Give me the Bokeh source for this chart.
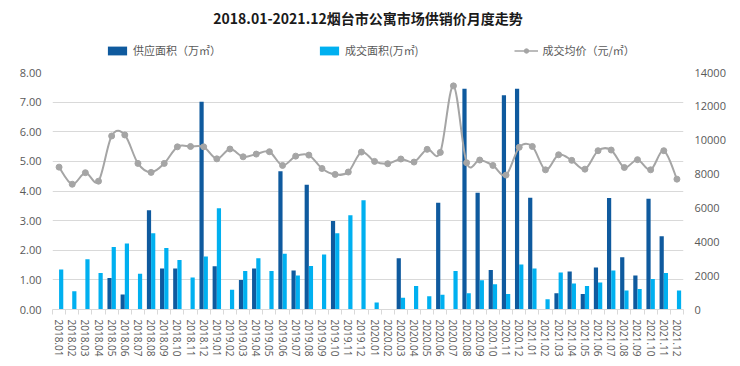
from bokeh.plotting import figure
from bokeh.layouts import column
from bokeh.models import (Range1d, LinearAxis, FixedTicker, Legend, LegendItem,
                          ColumnDataSource, NumeralTickFormatter, Label)
from bokeh.embed import file_html
from bokeh.resources import INLINE

months = ["2018.01", "2018.02", "2018.03", "2018.04", "2018.05", "2018.06",
          "2018.07", "2018.08", "2018.09", "2018.10", "2018.11", "2018.12",
          "2019.01", "2019.02", "2019.03", "2019.04", "2019.05", "2019.06",
          "2019.07", "2019.08", "2019.09", "2019.10", "2019.11", "2019.12",
          "2020.01", "2020.02", "2020.03", "2020.04", "2020.05", "2020.06",
          "2020.07", "2020.08", "2020.09", "2020.10", "2020.11", "2020.12",
          "2021.01", "2021.02", "2021.03", "2021.04", "2021.05", "2021.06",
          "2021.07", "2021.08", "2021.09", "2021.10", "2021.11", "2021.12"]

supply = [0, 0, 0, 0, 1.06, 0.51, 0, 3.35, 1.38, 1.38, 0, 7.01,
          1.46, 0, 1.00, 1.38, 0, 4.67, 1.32, 4.21, 0, 2.99, 0, 0,
          0, 0, 1.73, 0, 0, 3.60, 0, 7.45, 3.94, 1.33, 7.23, 7.45,
          3.77, 0, 0.55, 1.28, 0.52, 1.42, 3.76, 1.76, 1.15, 3.74, 2.47, 0]

sales = [1.35, 0.62, 1.70, 1.23, 2.11, 2.23, 1.21, 2.57, 2.08, 1.67, 1.08, 1.79,
         3.42, 0.67, 1.30, 1.73, 1.30, 1.88, 1.15, 1.47, 1.86, 2.57, 3.18, 3.69,
         0.24, 0, 0.40, 0.79, 0.45, 0.50, 1.30, 0.55, 0.99, 0.85, 0.52, 1.52,
         1.38, 0.35, 1.25, 0.88, 0.79, 0.91, 1.32, 0.64, 0.69, 1.03, 1.23, 0.64]

price = [8410, 7400, 8080, 7580, 10250, 10310, 8630, 8100, 8630, 9610, 9630, 9610,
         8900, 9480, 9020, 9180, 9320, 8510, 9060, 9120, 8330, 7980, 8120, 9300,
         8750, 8610, 8890, 8710, 9460, 9280, 13210, 8670, 8830, 8510, 7940, 9580,
         9630, 8250, 9140, 8810, 8290, 9380, 9420, 8390, 8850, 8250, 9380, 7700]

title_text = "2018.01-2021.12烟台市公寓市场供销价月度走势"
legend_labels = ["供应面积（万㎡）", "成交面积(万㎡)", "成交均价（元/㎡）"]

CJK = "Noto Sans CJK SC"
LAT = "Open Sans"
DARK = "#0F5A9E"
LIGHT = "#00B0F0"
GREY = "#A5A5A5"
TXT = "#595959"

idx = list(range(len(months)))
src = ColumnDataSource(dict(
    x=idx,
    xs=[i - 0.16 for i in idx],
    xl=[i + 0.16 for i in idx],
    supply=supply, sales=sales, price=price))

# ---------------- header: title + legend ----------------
hdr = figure(width=740, height=64, x_range=Range1d(0, 740), y_range=Range1d(0, 64),
             output_backend="svg", toolbar_location=None,
             min_border=0, outline_line_color=None,
             background_fill_color="white", border_fill_color="white")
hdr.axis.visible = False
hdr.grid.visible = False

hdr.add_layout(Label(x=370, y=47, text=title_text, text_align="center",
                     text_baseline="middle", text_font=CJK,
                     text_font_size="14px", text_font_style="bold",
                     text_color="#1a1a1a"))

# legend proxies (hidden renderers of the same data, only used for the key)
h_sup = hdr.vbar(x="xs", top="supply", width=0.32, source=src,
                 fill_color=DARK, line_color=None, visible=False)
h_sal = hdr.vbar(x="xl", top="sales", width=0.32, source=src,
                 fill_color=LIGHT, line_color=None, visible=False)
h_ln = hdr.line(x="x", y="price", source=src, line_color=GREY, line_width=1.5,
                visible=False)
h_pt = hdr.scatter(x="x", y="price", source=src, size=4, fill_color=GREY,
                   line_color=GREY, visible=False)

legend = Legend(items=[
    LegendItem(label=legend_labels[0], renderers=[h_sup]),
    LegendItem(label=legend_labels[1], renderers=[h_sal]),
    LegendItem(label=legend_labels[2], renderers=[h_ln, h_pt]),
], orientation="horizontal", location=(53, 6), spacing=96,
    label_text_font=CJK, label_text_font_size="11px", label_text_color=TXT,
    glyph_width=24, glyph_height=11, border_line_color=None,
    background_fill_alpha=0, margin=0, padding=4, label_standoff=4,
    label_height=12, inactive_fill_alpha=0)
hdr.add_layout(legend, "center")

# ---------------- main chart ----------------
p = figure(width=740, height=302, x_range=Range1d(-0.5, len(months) - 0.5),
           y_range=Range1d(0, 8), output_backend="svg", toolbar_location=None,
           min_border_left=52, min_border_right=57, min_border_top=8,
           min_border_bottom=57, background_fill_color="white",
           border_fill_color="white", outline_line_color=None)

p.extra_y_ranges = {"price": Range1d(0, 14000)}

p.xgrid.grid_line_color = None
p.ygrid.grid_line_color = "#D9D9D9"
p.ygrid.ticker = FixedTicker(ticks=[0, 1, 2, 3, 4, 5, 6, 7, 8])

p.vbar(x="xs", top="supply", width=0.32, source=src, fill_color=DARK, line_color=None)
p.vbar(x="xl", top="sales", width=0.32, source=src, fill_color=LIGHT, line_color=None)

# smoothed price line (cubic bezier segments through the data points)
n = len(price)
x0, y0, x1, y1, cx0, cy0, cx1, cy1 = [], [], [], [], [], [], [], []
for i in range(n - 1):
    im1 = max(i - 1, 0)
    ip2 = min(i + 2, n - 1)
    x0.append(i); y0.append(price[i])
    x1.append(i + 1); y1.append(price[i + 1])
    cx0.append(i + (i + 1 - im1) / 6.0)
    cy0.append(price[i] + (price[i + 1] - price[im1]) / 6.0)
    cx1.append(i + 1 - (ip2 - i) / 6.0)
    cy1.append(price[i + 1] - (price[ip2] - price[i]) / 6.0)
bz = ColumnDataSource(dict(x0=x0, y0=y0, x1=x1, y1=y1,
                           cx0=cx0, cy0=cy0, cx1=cx1, cy1=cy1))
p.bezier(x0="x0", y0="y0", x1="x1", y1="y1", cx0="cx0", cy0="cy0",
         cx1="cx1", cy1="cy1", source=bz, line_color=GREY, line_width=2,
         y_range_name="price")
p.scatter(x="x", y="price", source=src, size=6, fill_color=GREY,
          line_color=GREY, y_range_name="price")

yl = p.yaxis[0]
yl.ticker = FixedTicker(ticks=[0, 1, 2, 3, 4, 5, 6, 7, 8])
yl.formatter = NumeralTickFormatter(format="0.00")
yl.axis_line_color = None
yl.major_tick_line_color = None
yl.minor_tick_line_color = None
yl.major_label_text_font = LAT
yl.major_label_text_font_size = "11px"
yl.major_label_text_color = TXT
yl.major_label_standoff = 5

yr = LinearAxis(y_range_name="price",
                ticker=FixedTicker(ticks=[0, 2000, 4000, 6000, 8000, 10000, 12000, 14000]))
yr.axis_line_color = None
yr.major_tick_line_color = None
yr.minor_tick_line_color = None
yr.major_label_text_font = LAT
yr.major_label_text_font_size = "11px"
yr.major_label_text_color = TXT
yr.major_label_standoff = 5
p.add_layout(yr, "right")

xa = p.xaxis[0]
xa.ticker = FixedTicker(ticks=idx, minor_ticks=[i - 0.5 for i in range(len(months) + 1)])
xa.major_label_overrides = {i: m for i, m in enumerate(months)}
xa.major_label_orientation = "vertical"
xa.major_label_text_font = LAT
xa.major_label_text_font_size = "10px"
xa.major_label_text_color = TXT
xa.major_label_standoff = 4
xa.axis_line_color = "#D9D9D9"
xa.major_tick_line_color = None
xa.minor_tick_line_color = "#D9D9D9"
xa.minor_tick_in = 0
xa.minor_tick_out = 5

layout = column(hdr, p, spacing=0)
open("out.html", "w").write(file_html(layout, INLINE))
